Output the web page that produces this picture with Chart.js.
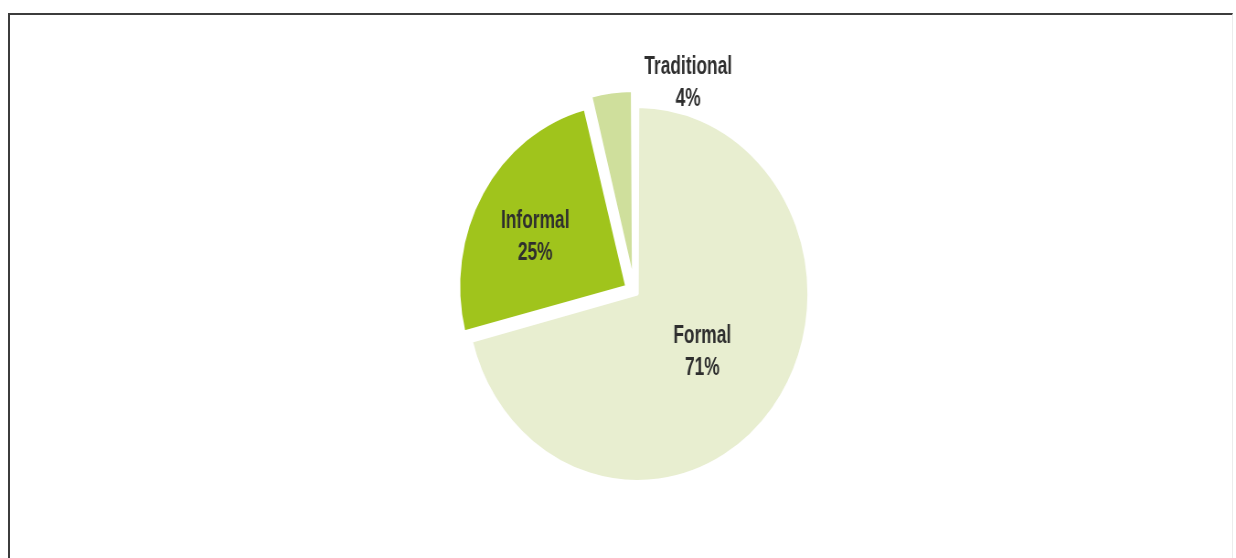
<!DOCTYPE html>
<html>
<head>
<meta charset="utf-8">
<title>Pie</title>
<script src="https://cdn.jsdelivr.net/npm/chart.js@4.4.1/dist/chart.umd.min.js"></script>
<style>
  html, body { margin: 0; padding: 0; background: #fff; }
  body { width: 1236px; height: 558px; position: relative; overflow: hidden; }
  #frame {
    position: absolute; left: 8px; top: 13px; width: 1222px; height: 545px;
    border-left: 2px solid #3c3c3c; border-top: 2px solid #3c3c3c;
    border-right: 1px solid #ececec;
  }
  #pie { position: absolute; left: 0; top: 0; }
</style>
</head>
<body>
<div id="frame"></div>
<!-- drawn 1352 wide, shown squeezed to 1236 -->
<canvas id="pie" width="1352" height="558" style="width:1236px;height:558px"></canvas>
<script>
// ----------------------- DATA -----------------------
const sectors = ['Formal', 'Informal', 'Traditional'];
const shares  = [71, 25, 4];
const colors  = ['#e8eed0', '#a0c41c', '#cfdf9c'];

// explode setting per slice (Chart.js moves arcs by a quarter of this)
const explode = [16, 40, 40];
// label placement: fraction of radius, extra turn in degrees
const labelRadius = [0.515, 0.667, 1.191];
const labelTurn   = [0.5, -3.1, 22.8];

// ----------------------- LABELS -----------------------
const sliceLabels = {
  id: 'sliceLabels',
  afterDatasetsDraw(chart){
    const ctx = chart.ctx;
    const meta = chart.getDatasetMeta(0);
    ctx.save();
    ctx.fillStyle = '#2e2e2e';
    ctx.font = 'bold 25px "Liberation Sans", Arial, sans-serif';
    ctx.textAlign = 'center';
    ctx.textBaseline = 'alphabetic';
    meta.data.forEach((arc, i) => {
      const p = arc.getProps(['x', 'y', 'startAngle', 'endAngle', 'outerRadius'], true);
      const mid = (p.startAngle + p.endAngle) / 2 + labelTurn[i] * Math.PI / 180;
      const r = labelRadius[i] * p.outerRadius;
      const cx = p.x + Math.cos(mid) * r;
      const cy = p.y + Math.sin(mid) * r;
      const lines = [sectors[i], shares[i] + '%'];
      lines.forEach((t, k) => {
        ctx.save();
        ctx.translate(cx, cy - 7 + k * 32);
        ctx.scale(0.76, 1);
        ctx.fillText(t, 0, 0);
        ctx.restore();
      });
    });
    ctx.restore();
  }
};

// ----------------------- CHART -----------------------
const ctx = document.getElementById('pie').getContext('2d');
new Chart(ctx, {
  type: 'pie',
  data: {
    labels: sectors,
    datasets: [{
      data: shares,
      backgroundColor: colors,
      borderColor: '#ffffff',
      borderWidth: 3,
      offset: explode,
      hoverOffset: 0
    }]
  },
  options: {
    responsive: false,
    animation: false,
    radius: 183.5,
    layout: { padding: { left: 36, right: 0, top: 25, bottom: 0 } },
    plugins: {
      legend: { display: false },
      tooltip: { enabled: false }
    },
    events: []
  },
  plugins: [sliceLabels]
});
</script>
</body>
</html>
